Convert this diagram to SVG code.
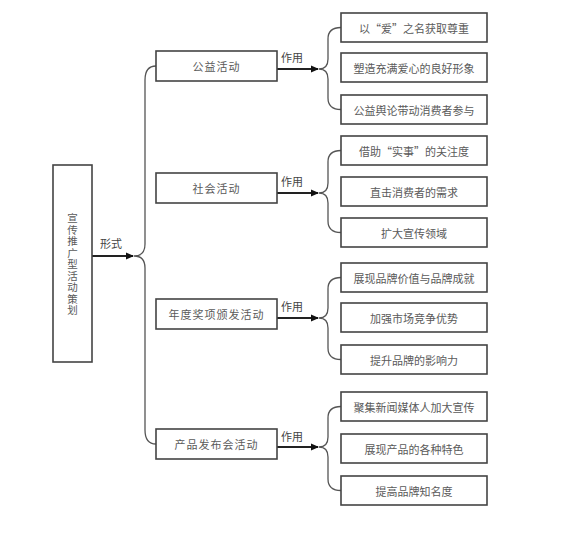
<svg xmlns="http://www.w3.org/2000/svg" width="565" height="535" viewBox="0 0 565 535">
<defs>
<marker id="ah" markerWidth="8" markerHeight="8" refX="7" refY="4" orient="auto" markerUnits="userSpaceOnUse">
<path d="M0,0.5 L8,4 L0,7.5 Z" fill="#111"/>
</marker>
<style>
.box{fill:#fff;stroke:#444;stroke-width:1.6}
.t{font-family:"Noto Sans CJK SC","Liberation Serif",sans-serif;font-size:11px;fill:#5a5a5a;text-anchor:middle;dominant-baseline:central}
.lbl{font-family:"Noto Sans CJK SC","Liberation Serif",sans-serif;font-size:11px;fill:#444;dominant-baseline:central}
.br{fill:none;stroke:#555;stroke-width:1.3}
.ar{fill:none;stroke:#222;stroke-width:1.8;marker-end:url(#ah)}
</style>
</defs>
<rect width="565" height="535" fill="#fff"/>
<g id="connectors">
<path class="ar" d="M92,256 L133,256"/>
<path class="br" d="M156,66 Q145,66 145,80 L145,244 Q145,256 134,256 Q145,256 145,268 L145,430 Q145,444 156,444"/>
<path class="ar" d="M277,69 L318,69"/>
<path class="ar" d="M277,193 L318,193"/>
<path class="ar" d="M277,318 L318,318"/>
<path class="ar" d="M277,447 L318,447"/>
<path class="br" d="M341,27.5 Q328,27.5 328,39 L328,59 Q328,69 319,69 Q328,69 328,79 L328,98 Q328,109.5 341,109.5"/>
<path class="br" d="M341,150.5 Q328,150.5 328,162 L328,183 Q328,193 319,193 Q328,193 328,203 L328,221 Q328,232.5 341,232.5"/>
<path class="br" d="M341,277.5 Q328,277.5 328,289 L328,308 Q328,318 319,318 Q328,318 328,328 L328,348 Q328,359.5 341,359.5"/>
<path class="br" d="M341,406.5 Q328,406.5 328,418 L328,437 Q328,447 319,447 Q328,447 328,457 L328,479 Q328,490.5 341,490.5"/>
<text class="lbl" x="100" y="243">形式</text>
<text class="lbl" x="281" y="57">作用</text>
<text class="lbl" x="281" y="181">作用</text>
<text class="lbl" x="281" y="306">作用</text>
<text class="lbl" x="281" y="436">作用</text>
</g>
<g id="root">
<rect class="box" x="53" y="165" width="39" height="197"/>
<text class="t" x="72.5" y="265" writing-mode="vertical-rl" letter-spacing="1" style="font-size:10.5px">宣传推广型活动策划</text>
</g>
<g id="n1"><rect class="box" x="156" y="51" width="121" height="30"/><text class="t" x="216.5" y="66" letter-spacing="1">公益活动</text></g>
<g id="n2"><rect class="box" x="156" y="173" width="121" height="30"/><text class="t" x="216.5" y="188" letter-spacing="1">社会活动</text></g>
<g id="n3"><rect class="box" x="156" y="299" width="121" height="30"/><text class="t" x="216.5" y="314" letter-spacing="1">年度奖项颁发活动</text></g>
<g id="n4"><rect class="box" x="156" y="429" width="121" height="30"/><text class="t" x="216.5" y="444" letter-spacing="1">产品发布会活动</text></g>
<g id="g1a"><rect class="box" x="341" y="13" width="146" height="29"/><text class="t" x="414" y="27.5">以“爱”之名获取尊重</text></g>
<g id="g1b"><rect class="box" x="341" y="53" width="146" height="29"/><text class="t" x="414" y="67.5">塑造充满爱心的良好形象</text></g>
<g id="g1c"><rect class="box" x="341" y="95" width="146" height="29"/><text class="t" x="414" y="109.5">公益舆论带动消费者参与</text></g>
<g id="g2a"><rect class="box" x="341" y="136" width="146" height="29"/><text class="t" x="414" y="150.5">借助“实事”的关注度</text></g>
<g id="g2b"><rect class="box" x="341" y="177" width="146" height="29"/><text class="t" x="414" y="191.5">直击消费者的需求</text></g>
<g id="g2c"><rect class="box" x="341" y="218" width="146" height="29"/><text class="t" x="414" y="232.5">扩大宣传领域</text></g>
<g id="g3a"><rect class="box" x="341" y="263" width="146" height="29"/><text class="t" x="414" y="277.5">展现品牌价值与品牌成就</text></g>
<g id="g3b"><rect class="box" x="341" y="303" width="146" height="29"/><text class="t" x="414" y="317.5">加强市场竞争优势</text></g>
<g id="g3c"><rect class="box" x="341" y="345" width="146" height="29"/><text class="t" x="414" y="359.5">提升品牌的影响力</text></g>
<g id="g4a"><rect class="box" x="341" y="392" width="146" height="29"/><text class="t" x="414" y="406.5">聚集新闻媒体人加大宣传</text></g>
<g id="g4b"><rect class="box" x="341" y="434" width="146" height="29"/><text class="t" x="414" y="448.5">展现产品的各种特色</text></g>
<g id="g4c"><rect class="box" x="341" y="476" width="146" height="29"/><text class="t" x="414" y="490.5">提高品牌知名度</text></g>
</svg>
